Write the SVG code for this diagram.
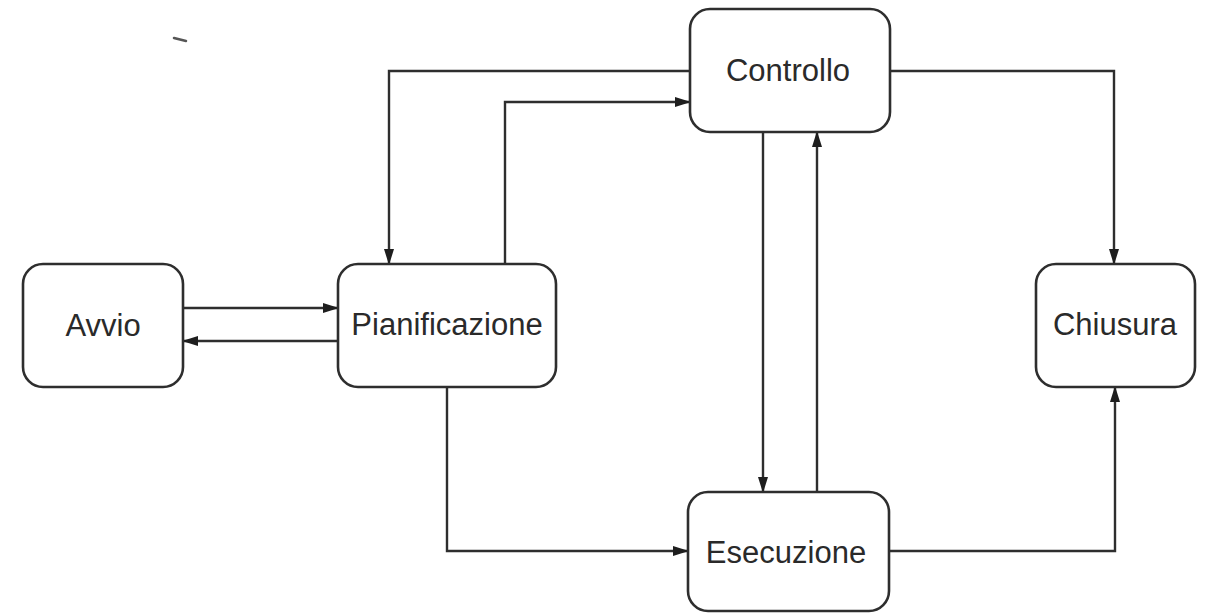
<svg xmlns="http://www.w3.org/2000/svg" width="1211" height="613" viewBox="0 0 1211 613">
  <style>
    .box { fill: #ffffff; stroke: #2e2e2e; stroke-width: 2.6; }
    .lbl { font-family: "Liberation Sans", Arial, sans-serif; font-size: 31px; fill: #2a2a2a; text-anchor: middle; }
    .wire { fill: none; stroke: #2e2e2e; stroke-width: 2.4; }
  </style>
  <defs>
    <marker id="arrow" markerUnits="userSpaceOnUse" markerWidth="16" markerHeight="10" refX="15" refY="5" orient="auto">
      <path d="M0,0 L16,5 L0,10 z" fill="#1e1e1e"/>
    </marker>
  </defs>

  <rect width="1211" height="613" fill="#ffffff"/>

  <!-- stray pen mark -->
  <path d="M174,38 L186,41" stroke="#555" stroke-width="2.5" stroke-linecap="round"/>

  <g id="connectors">
    <!-- Avvio <-> Pianificazione -->
    <path class="wire" d="M183,308 H338" marker-end="url(#arrow)"/>
    <path class="wire" d="M338,341 H183" marker-end="url(#arrow)"/>
    <!-- Controllo -> Pianificazione -->
    <path class="wire" d="M690,71 H389 V264" marker-end="url(#arrow)"/>
    <!-- Pianificazione -> Controllo -->
    <path class="wire" d="M505,264 V102 H690" marker-end="url(#arrow)"/>
    <!-- Controllo -> Chiusura -->
    <path class="wire" d="M890,71 H1114 V264" marker-end="url(#arrow)"/>
    <!-- Controllo <-> Esecuzione -->
    <path class="wire" d="M763,132 V492" marker-end="url(#arrow)"/>
    <path class="wire" d="M817,492 V132" marker-end="url(#arrow)"/>
    <!-- Pianificazione -> Esecuzione -->
    <path class="wire" d="M447,387 V551 H688" marker-end="url(#arrow)"/>
    <!-- Esecuzione -> Chiusura -->
    <path class="wire" d="M889,551 H1115 V387" marker-end="url(#arrow)"/>
  </g>

  <g id="avvio">
    <rect class="box" x="23" y="264" width="160" height="123" rx="20" ry="20"/>
    <text class="lbl" x="103" y="336">Avvio</text>
  </g>

  <g id="pianificazione">
    <rect class="box" x="338" y="264" width="218" height="123" rx="20" ry="20"/>
    <text class="lbl" x="447" y="335">Pianificazione</text>
  </g>

  <g id="controllo">
    <rect class="box" x="690" y="9" width="200" height="123" rx="20" ry="20"/>
    <text class="lbl" x="788" y="81">Controllo</text>
  </g>

  <g id="esecuzione">
    <rect class="box" x="688" y="492" width="201" height="119" rx="20" ry="20"/>
    <text class="lbl" x="786" y="563">Esecuzione</text>
  </g>

  <g id="chiusura">
    <rect class="box" x="1036" y="264" width="159" height="123" rx="20" ry="20"/>
    <text class="lbl" x="1115" y="335">Chiusura</text>
  </g>
</svg>
